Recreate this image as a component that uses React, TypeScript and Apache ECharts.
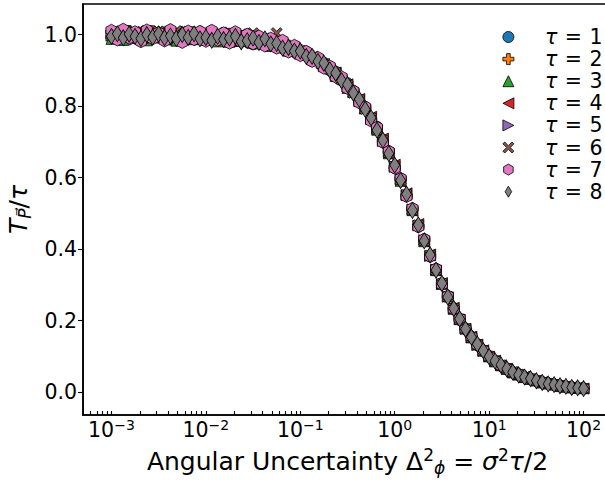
import React, { useEffect, useRef } from 'react';
import * as echarts from 'echarts';

const F = 'DejaVu Sans';

// shared x grid (Angular Uncertainty)
const xValues = [
  0.001, 0.001155, 0.001334, 0.00154, 0.001778, 0.002054, 0.002371, 0.002738, 0.003162, 0.003652, 0.004217, 0.00487, 0.005623, 0.006494, 0.007499, 0.00866,
  0.01, 0.01155, 0.01334, 0.0154, 0.01778, 0.02054, 0.02371, 0.02738, 0.03162, 0.03652, 0.04217, 0.0487, 0.05623, 0.06494, 0.07499, 0.0866,
  0.1, 0.1155, 0.1334, 0.154, 0.1778, 0.2054, 0.2371, 0.2738, 0.3162, 0.3652, 0.4217, 0.487, 0.5623, 0.6494, 0.7499, 0.866,
  1, 1.155, 1.334, 1.54, 1.778, 2.054, 2.371, 2.738, 3.162, 3.652, 4.217, 4.87, 5.623, 6.494, 7.499, 8.66,
  10, 11.55, 13.34, 15.4, 17.78, 20.54, 23.71, 27.38, 31.62, 36.52, 42.17, 48.7, 56.23, 64.94, 74.99, 86.6, 100,
];

const tau1 = [
  1.008, 0.994, 1.011, 0.996, 1.005, 0.989, 1.001, 1.008, 0.991, 1.002, 0.986, 1.003, 0.998, 0.991, 1.006, 0.994,
  1.002, 0.985, 0.996, 1.003, 0.987, 0.982, 0.994, 0.988, 0.973, 0.991, 0.976, 0.981, 0.965, 0.980, 0.962, 0.962,
  0.946, 0.952, 0.926, 0.930, 0.921, 0.900, 0.896, 0.872, 0.864, 0.842, 0.813, 0.797, 0.763, 0.742, 0.700, 0.672,
  0.627, 0.597, 0.549, 0.512, 0.463, 0.427, 0.380, 0.344, 0.305, 0.266, 0.235, 0.202, 0.178, 0.154, 0.134, 0.115,
  0.101, 0.087, 0.074, 0.066, 0.056, 0.050, 0.042, 0.036, 0.032, 0.028, 0.024, 0.021, 0.019, 0.015, 0.013, 0.011, 0.010,
];
const tau2 = [
  0.993, 1.006, 0.998, 1.010, 0.992, 1.004, 0.995, 1.009, 0.997, 0.990, 1.007, 0.995, 1.004, 0.988, 1.001, 1.008,
  0.990, 1.001, 0.987, 0.998, 1.002, 0.984, 0.995, 0.979, 0.990, 0.986, 0.971, 0.984, 0.977, 0.961, 0.969, 0.951,
  0.957, 0.940, 0.941, 0.921, 0.919, 0.907, 0.886, 0.878, 0.853, 0.841, 0.812, 0.795, 0.761, 0.739, 0.701, 0.673,
  0.629, 0.596, 0.550, 0.513, 0.465, 0.426, 0.381, 0.343, 0.302, 0.268, 0.233, 0.205, 0.176, 0.155, 0.132, 0.117,
  0.100, 0.088, 0.075, 0.064, 0.057, 0.049, 0.043, 0.037, 0.031, 0.027, 0.024, 0.020, 0.018, 0.015, 0.014, 0.012, 0.010,
];
const tau3 = [
  0.988, 1.003, 0.985, 0.997, 1.006, 0.990, 0.984, 1.002, 0.993, 1.005, 0.989, 0.983, 0.999, 1.004, 0.987, 0.995,
  0.985, 0.999, 0.981, 0.994, 0.980, 0.996, 0.983, 0.992, 0.977, 0.975, 0.986, 0.968, 0.979, 0.964, 0.955, 0.961,
  0.947, 0.948, 0.931, 0.933, 0.912, 0.906, 0.884, 0.879, 0.851, 0.840, 0.814, 0.794, 0.766, 0.734, 0.706, 0.668,
  0.633, 0.591, 0.553, 0.509, 0.469, 0.422, 0.383, 0.341, 0.303, 0.268, 0.233, 0.204, 0.178, 0.153, 0.133, 0.116,
  0.100, 0.086, 0.075, 0.065, 0.055, 0.049, 0.042, 0.037, 0.033, 0.027, 0.024, 0.021, 0.017, 0.015, 0.013, 0.012, 0.011,
];
const tau4 = [
  1.004, 0.992, 1.007, 0.989, 1.001, 1.009, 0.991, 0.998, 1.006, 0.987, 1.000, 1.007, 0.990, 1.003, 0.993, 0.999,
  1.004, 0.989, 1.002, 0.984, 0.997, 0.989, 1.000, 0.983, 0.992, 0.973, 0.985, 0.979, 0.969, 0.974, 0.958, 0.964,
  0.949, 0.945, 0.938, 0.924, 0.918, 0.902, 0.894, 0.873, 0.861, 0.835, 0.820, 0.789, 0.770, 0.731, 0.709, 0.665,
  0.636, 0.589, 0.556, 0.507, 0.470, 0.421, 0.385, 0.340, 0.305, 0.265, 0.236, 0.203, 0.177, 0.155, 0.133, 0.117,
  0.099, 0.088, 0.075, 0.066, 0.056, 0.048, 0.043, 0.036, 0.032, 0.028, 0.023, 0.021, 0.018, 0.016, 0.013, 0.011, 0.010,
];
const tau5 = [
  0.997, 1.009, 0.993, 1.004, 0.986, 0.998, 1.007, 0.990, 1.001, 0.995, 1.008, 0.992, 0.986, 1.005, 0.998, 0.985,
  0.999, 1.005, 0.990, 0.983, 0.999, 0.993, 0.982, 0.997, 0.986, 0.990, 0.974, 0.970, 0.981, 0.966, 0.968, 0.952,
  0.958, 0.942, 0.933, 0.929, 0.913, 0.908, 0.887, 0.877, 0.855, 0.839, 0.817, 0.793, 0.764, 0.738, 0.702, 0.671,
  0.630, 0.595, 0.551, 0.511, 0.466, 0.425, 0.381, 0.343, 0.302, 0.267, 0.234, 0.204, 0.177, 0.154, 0.132, 0.116,
  0.100, 0.087, 0.076, 0.065, 0.056, 0.049, 0.042, 0.037, 0.032, 0.027, 0.024, 0.021, 0.018, 0.015, 0.013, 0.012, 0.010,
];
const tau6 = [
  1.002, 0.996, 1.010, 0.993, 1.008, 0.997, 1.011, 0.994, 1.009, 1.003, 0.994, 1.010, 0.996, 1.008, 1.002, 0.993,
  1.007, 0.996, 1.005, 0.999, 1.006, 0.995, 1.001, 0.990, 1.004, 0.985, 0.989, 0.982, 1.004, 0.975, 0.960, 0.957,
  0.955, 0.946, 0.935, 0.931, 0.915, 0.903, 0.893, 0.874, 0.858, 0.837, 0.818, 0.792, 0.766, 0.735, 0.704, 0.670,
  0.631, 0.594, 0.552, 0.510, 0.467, 0.424, 0.382, 0.342, 0.303, 0.267, 0.234, 0.204, 0.177, 0.154, 0.133, 0.116,
  0.100, 0.087, 0.075, 0.065, 0.056, 0.049, 0.042, 0.037, 0.032, 0.027, 0.024, 0.021, 0.018, 0.015, 0.013, 0.012, 0.010,
];
const tau7 = [
  1.012, 0.985, 1.015, 0.990, 1.008, 0.980, 1.013, 0.988, 1.006, 0.982, 1.014, 0.991, 0.978, 1.010, 0.986, 1.009,
  0.981, 1.012, 0.984, 1.005, 0.976, 1.008, 0.979, 1.001, 0.974, 0.996, 0.968, 0.990, 0.962, 0.984, 0.951, 0.970,
  0.941, 0.953, 0.925, 0.936, 0.906, 0.912, 0.881, 0.882, 0.849, 0.843, 0.809, 0.798, 0.758, 0.741, 0.698, 0.674,
  0.626, 0.598, 0.547, 0.514, 0.462, 0.428, 0.379, 0.345, 0.301, 0.269, 0.232, 0.206, 0.176, 0.155, 0.132, 0.117,
  0.099, 0.088, 0.074, 0.066, 0.055, 0.050, 0.041, 0.038, 0.031, 0.028, 0.023, 0.022, 0.017, 0.016, 0.012, 0.012, 0.010,
];
const tau8 = [
  0.995, 1.002, 0.991, 1.001, 0.995, 0.989, 1.000, 0.993, 1.002, 0.991, 0.996, 0.989, 1.000, 0.992, 1.002, 0.988,
  0.992, 0.984, 0.995, 0.986, 0.990, 0.995, 0.980, 0.983, 0.990, 0.978, 0.988, 0.974, 0.975, 0.962, 0.964, 0.954,
  0.954, 0.939, 0.939, 0.925, 0.920, 0.901, 0.892, 0.871, 0.860, 0.836, 0.819, 0.791, 0.767, 0.733, 0.705, 0.667,
  0.635, 0.592, 0.554, 0.508, 0.468, 0.423, 0.384, 0.341, 0.304, 0.266, 0.234, 0.205, 0.176, 0.154, 0.134, 0.116,
  0.099, 0.087, 0.076, 0.065, 0.056, 0.048, 0.042, 0.038, 0.032, 0.027, 0.023, 0.021, 0.018, 0.016, 0.013, 0.012, 0.010,
];

const seriesValues = [tau1, tau2, tau3, tau4, tau5, tau6, tau7, tau8];
const seriesNames = ['τ = 1', 'τ = 2', 'τ = 3', 'τ = 4', 'τ = 5', 'τ = 6', 'τ = 7', 'τ = 8'];
const seriesColors = ['#1f77b4', '#ff7f0e', '#2ca02c', '#d62728', '#9467bd', '#8c564b', '#e377c2', '#7f7f7f'];
const seriesSymbols = [
  'circle',
  'path://M-1,-3H1V-1H3V1H1V3H-1V1H-3V-1H-1Z',
  'path://M0,0L1,2L-1,2Z',
  'path://M0,1L2,0L2,2Z',
  'path://M2,1L0,0L0,2Z',
  'path://M-2,-3L0,-1L2,-3L3,-2L1,0L3,2L2,3L0,1L-2,3L-3,2L-1,0L-3,-2Z',
  'path://M0,-1L0.866,-0.5L0.866,0.5L0,1L-0.866,0.5L-0.866,-0.5Z',
  'path://M0,-1L0.6,0L0,1L-0.6,0Z',
];
const seriesSymbolSizes: (number | number[])[] = [11, 11, 11, 11, 11, 11, [11, 12], [10, 16]];

const yTicks = [0, 0.2, 0.4, 0.6, 0.8, 1.0];
const xMajorExponents = [-3, -2, -1, 0, 1, 2];
const xMinorMultipliers = [1, 2, 3, 4, 5, 6, 7, 8, 9];

const X_MIN = 0.0005;
const X_MAX = 200;
const Y_MIN = -0.064;
const Y_MAX = 1.0855;

export default function App() {
  const ref = useRef<HTMLDivElement>(null);
  useEffect(() => {
    const chart = echarts.init(ref.current!, null, { renderer: 'svg' });
    const lo = Math.log10(X_MIN);
    const hi = Math.log10(X_MAX);
    const tickExps: number[] = [];
    [-4, ...xMajorExponents].forEach((e) => {
      xMinorMultipliers.forEach((m) => {
        const v = e + Math.log10(m);
        if (v > lo + 1e-6 && v < hi - 1e-6) tickExps.push(v);
      });
    });
    const option: any = {
      animation: false,
      backgroundColor: '#fff',
      grid: {
        left: 83, right: -7, top: 4, bottom: 67,
        show: true, borderColor: '#000', borderWidth: 1.6, backgroundColor: 'transparent',
        containLabel: false, outerBoundsMode: 'none',
      },
      legend: {
        orient: 'vertical', left: 502.5, top: 26, padding: 0, itemGap: 0.1,
        itemWidth: 11, itemHeight: 11, align: 'left',
        itemStyle: { borderWidth: 0.8, borderColor: '#000' },
        data: seriesNames,
        formatter: (name: string) => {
          const parts = name.split(' = ');
          return '{it|τ}{eq| = }' + parts[1];
        },
        textStyle: {
          fontFamily: F, fontSize: 20.5, color: '#000', lineHeight: 22, padding: [0, 0, 0, 26],
          rich: {
            it: { fontFamily: F, fontSize: 20.5, fontStyle: 'italic', lineHeight: 22, color: '#000' },
            eq: { fontFamily: F, fontSize: 20.5, lineHeight: 22, color: '#000', padding: [0, 1, 0, 1] },
          },
        },
      },
      xAxis: [
        {
          type: 'log', logBase: 10, min: X_MIN, max: X_MAX, position: 'bottom',
          axisLine: { show: true, onZero: false, lineStyle: { color: '#000', width: 1.6 } },
          axisTick: { show: false }, axisLabel: { show: false }, splitLine: { show: false },
          minorTick: { show: false }, minorSplitLine: { show: false },
        },
        {
          type: 'value', min: lo, max: hi, position: 'bottom',
          axisLine: { show: false, onZero: false },
          splitLine: { show: false },
          axisTick: { show: true, inside: true, length: 4, customValues: tickExps, lineStyle: { color: '#000', width: 1.1 } },
          axisLabel: {
            show: true, customValues: xMajorExponents, margin: 3,
            fontFamily: F, fontSize: 20.5, color: '#000', lineHeight: 24,
            formatter: (v: number) => {
              const e = Math.round(v);
              return '10{sup|' + (e < 0 ? '\u2212' + -e : String(e)) + '}';
            },
            rich: { sup: { fontFamily: F, fontSize: 14, lineHeight: 10, verticalAlign: 'top', color: '#000' } },
          },
          name: 'Angular Uncertainty Δ{sup|2}{sub|ϕ} = {it|σ}{sup|2}{it|τ}/2',
          nameLocation: 'middle', nameGap: 30.4,
          nameTextStyle: {
            fontFamily: F, fontSize: 25, color: '#000', lineHeight: 30,
            rich: {
              it: { fontFamily: F, fontSize: 25, fontStyle: 'italic', lineHeight: 30, color: '#000' },
              sup: { fontFamily: F, fontSize: 17, lineHeight: 10, verticalAlign: 'top', color: '#000' },
              sub: { fontFamily: F, fontSize: 17, fontStyle: 'italic', lineHeight: 25, verticalAlign: 'bottom', color: '#000' },
            },
          },
        },
      ],
      yAxis: {
        type: 'value', min: Y_MIN, max: Y_MAX,
        axisLine: { show: true, onZero: false, lineStyle: { color: '#000', width: 1.6 } },
        splitLine: { show: false },
        axisTick: { show: true, inside: false, length: 5, customValues: yTicks, lineStyle: { color: '#000', width: 1.1 } },
        axisLabel: {
          customValues: yTicks, margin: 6, fontFamily: F, fontSize: 20.5, color: '#000',
          formatter: (v: number) => v.toFixed(1),
        },
        name: '{it|T}{sub|P\u20D7}/{it|τ}',
        nameLocation: 'middle', nameRotate: 90, nameGap: 37,
        nameTextStyle: {
          fontFamily: F, fontSize: 25, color: '#000', lineHeight: 30,
          rich: {
            it: { fontFamily: F, fontSize: 25, fontStyle: 'italic', lineHeight: 30, color: '#000' },
            sub: { fontFamily: F, fontSize: 17, fontStyle: 'italic', lineHeight: 24, verticalAlign: 'bottom', color: '#000' },
          },
        },
      },
      series: seriesValues.map((vals, i) => ({
        type: 'scatter',
        name: seriesNames[i],
        xAxisIndex: 0,
        yAxisIndex: 0,
        symbol: seriesSymbols[i],
        symbolSize: seriesSymbolSizes[i],
        itemStyle: { color: seriesColors[i], borderColor: '#000', borderWidth: 0.8, opacity: 1 },
        data: xValues.map((x, j) => [x, vals[j]]),
        emphasis: { disabled: true },
      })),
    };
    chart.setOption(option);
    return () => chart.dispose();
  }, []);
  return (
    <div
      ref={ref}
      style={{ position: 'absolute', left: 0, top: 0, width: 605, height: 482, background: '#fff' }}
    />
  );
}
